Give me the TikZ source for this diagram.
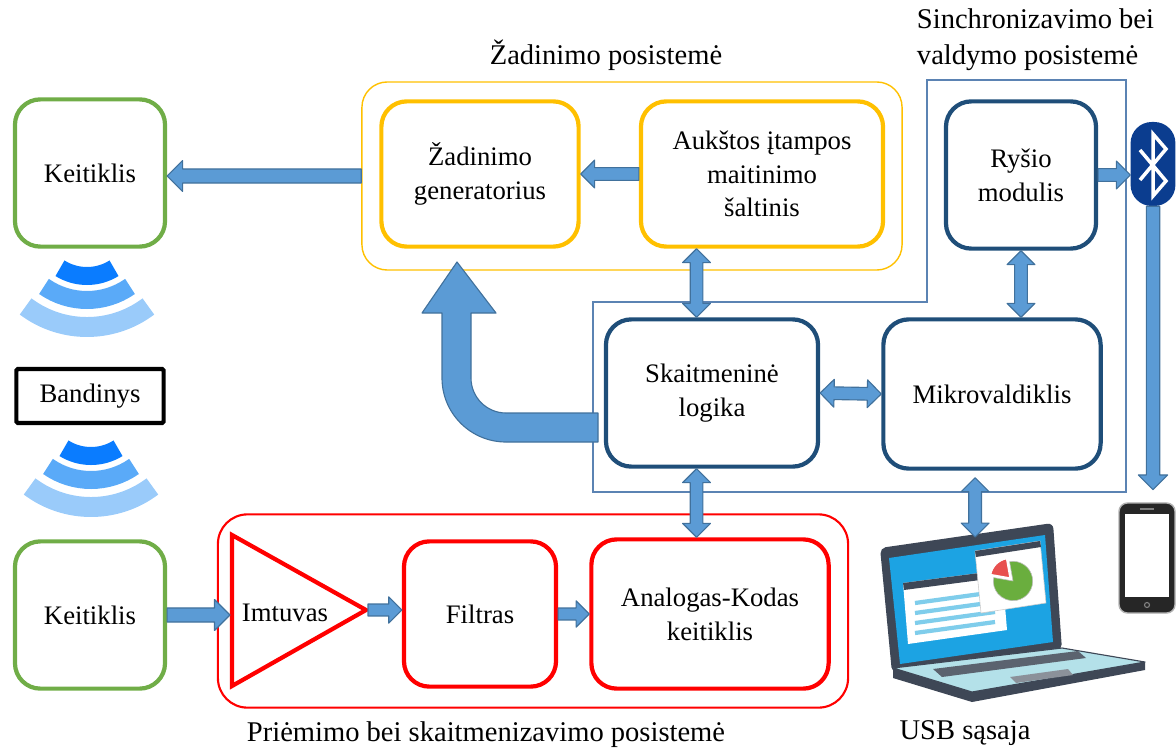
\documentclass[tikz,border=0pt]{standalone}
\usepackage{fontspec}
\setmainfont{Liberation Serif}
\usetikzlibrary{positioning,calc}
\definecolor{grn}{HTML}{70AD47}
\definecolor{ylw}{HTML}{FFC000}
\definecolor{nvy}{HTML}{1F4E79}
\definecolor{rd}{HTML}{FF0000}
\definecolor{arrfill}{HTML}{5B9BD5}
\definecolor{arrline}{HTML}{41719C}
\definecolor{grpblu}{HTML}{5B83B3}
\definecolor{wave1}{HTML}{0A7CFF}
\definecolor{wave2}{HTML}{5AAAF8}
\definecolor{wave3}{HTML}{9ACBFA}
\definecolor{btblue}{HTML}{0B3D8F}
\definecolor{lapgray}{HTML}{3E4756}
\definecolor{scrblue}{HTML}{1CA3E3}
\definecolor{lnblue}{HTML}{7FCDEB}
\definecolor{deck}{HTML}{B4E1E9}
\definecolor{pieg}{HTML}{6AAE3E}
\definecolor{pier}{HTML}{E8504F}
\newcommand{\boxfont}{\fontsize{19}{24}\selectfont}
\newcommand{\ttlfont}{\fontsize{20.3}{25.5}\selectfont}
\newcommand{\shaftw}{5pt}
\newcommand{\headw}{11pt}
\newcommand{\headl}{11pt}
% block arrow, tip at #3
\newcommand{\blkarrow}[3][1]{%
  \filldraw[blkarr] let \p1=#2, \p2=#3, \n1={veclen(\x2-\x1,\y2-\y1)}, \n2={atan2(\y2-\y1,\x2-\x1)} in
    [shift={(\x1,\y1)}, rotate=\n2]
    (0pt,-#1*\shaftw) -- (\n1-#1*\headl,-#1*\shaftw) -- (\n1-#1*\headl,-#1*\headw) -- (\n1,0pt)
    -- (\n1-#1*\headl,#1*\headw) -- (\n1-#1*\headl,#1*\shaftw) -- (0pt,#1*\shaftw) -- cycle;}
% block arrow with two heads
\newcommand{\dblarrow}[3][1]{%
  \filldraw[blkarr] let \p1=#2, \p2=#3, \n1={veclen(\x2-\x1,\y2-\y1)}, \n2={atan2(\y2-\y1,\x2-\x1)} in
    [shift={(\x1,\y1)}, rotate=\n2]
    (0pt,0pt) -- (#1*\headl,#1*\headw) -- (#1*\headl,#1*\shaftw) -- (\n1-#1*\headl,#1*\shaftw)
    -- (\n1-#1*\headl,#1*\headw) -- (\n1,0pt) -- (\n1-#1*\headl,-#1*\headw) -- (\n1-#1*\headl,-#1*\shaftw)
    -- (#1*\headl,-#1*\shaftw) -- (#1*\headl,-#1*\headw) -- cycle;}

\begin{document}
\begin{tikzpicture}[x=0.025cm,y=-0.025cm,
  box/.style={draw,line width=3pt,rounded corners=18pt,align=center,font=\boxfont},
  blkarr/.style={fill=arrfill,draw=arrline,line width=0.8pt,line join=round},
  ttl/.style={font=\ttlfont}]
  \useasboundingbox (0,0) rectangle (1176,749);

  % subsystem frames
  \node[draw=ylw,line width=1pt,rounded corners=18pt,minimum width=13.5cm,minimum height=4.7cm] (exc) at (632,176) {};
  \node[draw=rd,line width=1.5pt,rounded corners=21pt,minimum width=15.75cm,minimum height=4.83cm] (rcv) at (533,611) {};
  \draw[grpblu,line width=1pt] (927,80) -- (1126,80) -- (1126,492) -- (593,492) -- (593,302) -- (927,302) -- cycle;

  \node[ttl] (exct) at (606,55) {Žadinimo posistemė};
  \node[ttl,align=left,anchor=west] (synt) at (912,40) {Sinchronizavimo bei\\valdymo posistemė};
  \node[ttl] (rcvt) at (486,735) {Priėmimo bei skaitmenizavimo posistemė};
  \node[ttl] (usbt) at (965,733) {USB sąsaja};

  % blocks
  \node[box,draw=grn,minimum width=3.75cm,minimum height=3.68cm] (kt1) at (90,173) {Keitiklis};
  \node[box,draw=grn,minimum width=3.75cm,minimum height=3.68cm] (kt2) at (90,615) {Keitiklis};
  \node[draw,line width=3pt,rounded corners=1pt,minimum width=3.68cm,minimum height=1.35cm,font=\boxfont] (band) at (90,396) {Bandinys};
  \node[box,draw=ylw,minimum width=4.93cm,minimum height=3.63cm] (gen) at (480,174) {Žadinimo\\generatorius};
  \node[box,draw=ylw,minimum width=6.05cm,minimum height=3.63cm] (hv) at (762,174) {Aukštos įtampos\\maitinimo\\šaltinis};
  \node[box,draw=nvy,minimum width=3.75cm,minimum height=3.68cm] (rys) at (1021,175) {Ryšio\\modulis};
  \node[box,draw=nvy,minimum width=5.3cm,minimum height=3.68cm] (sl) at (712,393) {Skaitmeninė\\logika};
  \node[box,draw=nvy,minimum width=5.43cm,minimum height=3.73cm] (mcu) at (992,394) {Mikrovaldiklis};
  \node[box,draw=rd,minimum width=3.8cm,minimum height=3.63cm] (filt) at (480,614) {Filtras};
  \node[box,draw=rd,minimum width=5.93cm,minimum height=3.73cm] (adc) at (710,614) {Analogas-Kodas\\keitiklis};

  % receiver triangle
  \draw[rd,line width=3pt] (232,535) -- (366,610) -- (232,686) -- cycle;
  \coordinate (rxin) at (230,612);
  \coordinate (rxout) at (368,610);
  \node[font=\boxfont] (rx) at (285,613) {Imtuvas};

  % waves
  \foreach \cx/\cy in {87/225,91/405}{
    \foreach \r/\w/\a/\c in {51/12.8pt/32/wave1,75/12.8pt/35/wave2,102/14.2pt/37/wave3}
      \draw[\c,line width=\w] (\cx,\cy) ++(90-\a:\r) arc[start angle=90-\a,end angle=90+\a,radius=\r];
  }

  % bluetooth and phone
  \node[fill=btblue,rounded corners=15pt,minimum width=1.12cm,minimum height=2.1cm] (bt) at (1153,164) {};
  \draw[white,line width=2.5pt] (1140,150) -- (1166,181) -- (1153,196) -- (1153,134) -- (1166,149) -- (1140,180);
  \node[fill=black!85,draw=gray!60,line width=1pt,rounded corners=6pt,minimum width=1.4cm,minimum height=2.75cm] (ph) at (1147,558) {};
  \fill[white] (1125,514) rectangle (1169,597);
  \draw[gray,line width=1pt] (1140,509) -- (1154,509);
  \draw[gray,line width=0.8pt] (1147,605) circle (2.5);
  \coordinate (phtop) at ([yshift=9pt]ph.north);

  % laptop
  \begin{scope}[line join=round]
    \fill[lapgray,rounded corners=4pt] (880,548) -- (1053,523) -- (1062,650) -- (892,673) -- cycle;
    \fill[scrblue] (889,558) -- (1045,535) -- (1053,642) -- (900,664) -- cycle;
    \fill[white] (903,583) -- (1002,570) -- (1007,630) -- (908,644) -- cycle;
    \fill[lapgray] (903,583) -- (1002,570) -- (1003,577) -- (904,590) -- cycle;
    \foreach \d in {0,10,20,30}
      \draw[lnblue,line width=3pt] (915,603+\d) -- (995,592+\d);
    \fill[white,draw=gray!40] (975,551) -- (1040,541) -- (1046,603) -- (981,613) -- cycle;
    \fill[lapgray] (975,551) -- (1040,541) -- (1041,547) -- (976,557) -- cycle;
    \fill[pieg,draw=gray!50] (1013,581) -- ++(100:14pt) arc[start angle=100,end angle=-190,radius=14pt] -- cycle;
    \fill[pier,draw=white,line width=1pt] ([shift={(135:3pt)}]1013,581) -- ++(100:14pt) arc[start angle=100,end angle=170,radius=14pt] -- cycle;
    \fill[lapgray] (893,668) -- (893,678) -- (972,702) -- (1145,670) -- (1145,662) -- (972,692) -- cycle;
    \fill[deck,draw=lapgray,line width=0.8pt] (893,668) -- (1062,648) -- (1145,662) -- (972,692) -- cycle;
    \fill[lapgray!85] (933,669) -- (1078,651) -- (1086,658) -- (942,677) -- cycle;
    \fill[lapgray!60] (1010,677) -- (1068,669) -- (1073,675) -- (1016,683) -- cycle;
  \end{scope}
  \coordinate (lap) at (975,537);

  % connections
  \blkarrow{(exc.west)}{(kt1.east |- exc.west)}
  \blkarrow[0.9]{(hv.west)}{(gen.east)}
  \blkarrow[0.9]{(rys.east)}{(rys.east -| bt.west)}
  \blkarrow[0.95]{(bt.south)}{(bt.south |- phtop)}
  \dblarrow[0.9]{(rys.south)}{(rys.south |- mcu.north)}
  \dblarrow[0.9]{(sl.east)}{(mcu.west)}
  \coordinate (slt) at ([xshift=-11pt]sl.north);
  \coordinate (slb) at ([xshift=-11pt]sl.south);
  \dblarrow[0.9]{(slt |- hv.south)}{(slt)}
  \dblarrow[0.9]{(slb)}{(slb |- adc.north)}
  \coordinate (mcb) at ([xshift=-12pt,yshift=-5pt]mcu.south);
  \dblarrow[0.9]{(mcb)}{(mcb |- lap)}
  \blkarrow{(kt2.east)}{(kt2.east -| rxin)}
  \blkarrow[0.85]{(rxout)}{(rxout -| filt.west)}
  \blkarrow[0.85]{(filt.east)}{(adc.west)}

  % logic back to the generator
  \filldraw[blkarr] (598,413) -- (506,413) arc[start angle=90,end angle=180,radius=35] -- (471,313)
    -- (496,313) -- (457,262) -- (422,313) -- (442,313) -- (442,378) arc[start angle=180,end angle=90,radius=64]
    -- (598,442) -- cycle;
\end{tikzpicture}
\end{document}
